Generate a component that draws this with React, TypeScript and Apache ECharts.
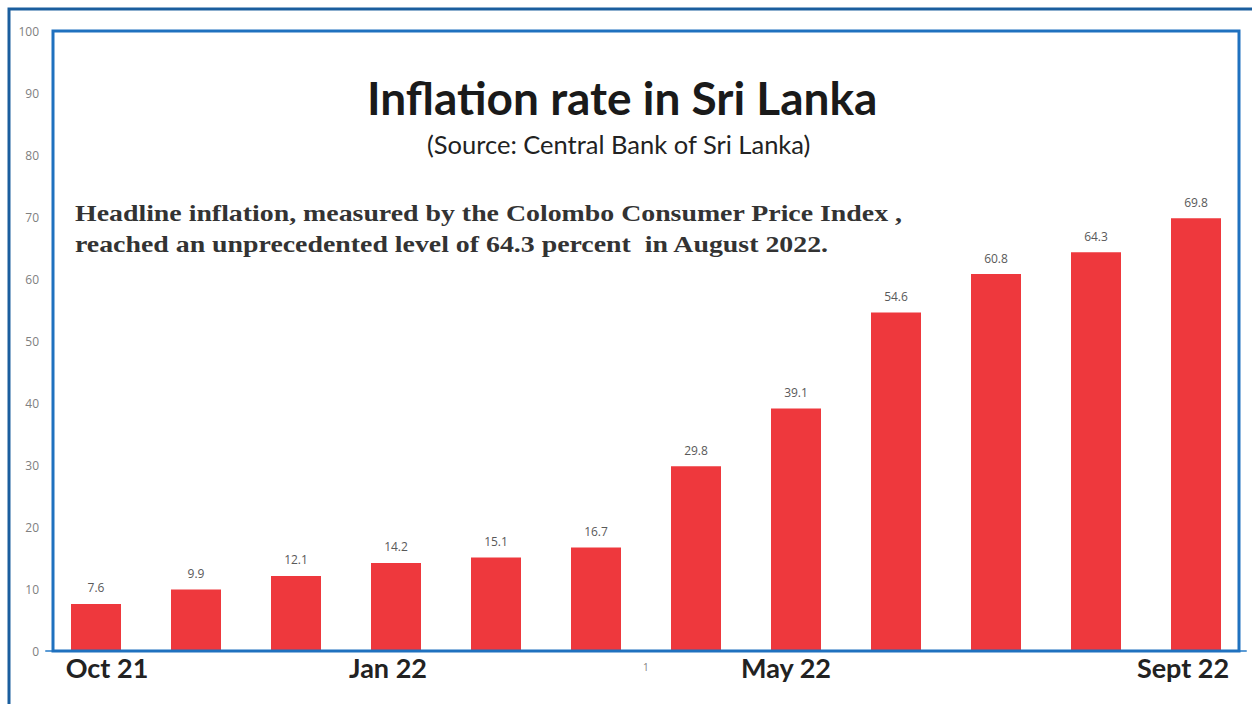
import React, { useEffect, useRef } from "react";
import * as echarts from "echarts";

const categories = ["Oct 21", "Nov 21", "Dec 21", "Jan 22", "Feb 22", "Mar 22", "Apr 22", "May 22", "Jun 22", "Jul 22", "Aug 22", "Sept 22"];
const values = [7.6, 9.9, 12.1, 14.2, 15.1, 16.7, 29.8, 39.1, 54.6, 60.8, 64.3, 69.8];
const shownLabels = ["Oct 21", "Jan 22", "May 22", "Sept 22"];
const labelStyleKey: Record<string, string> = { "Oct 21": "r", "Jan 22": "l1", "May 22": "l2", "Sept 22": "l3" };
const titleText = "Inflation rate in Sri Lanka";
const subtitleText = "(Source: Central Bank of Sri Lanka)";
const noteLine1 = "Headline inflation, measured by the Colombo Consumer Price Index ,";
const noteLine2 = "reached an unprecedented level of 64.3 percent  in August 2022.";

export default function App() {
  const ref = useRef<HTMLDivElement>(null);
  useEffect(() => {
    if (!ref.current) return;
    const chart = echarts.init(ref.current, null, { renderer: "svg" });
    const base = { fontFamily: "Lato", fontWeight: "bold", fontSize: 27, color: "#222222" };
    chart.setOption({
      animation: false,
      backgroundColor: "#ffffff",
      grid: { left: 46, right: 6, top: 31, bottom: 53, containLabel: false },
      xAxis: {
        type: "category",
        data: categories,
        axisLine: { show: true, lineStyle: { color: "#5b9bd5", width: 2 } },
        axisTick: { show: false },
        axisLabel: {
          interval: (i: number) => shownLabels.includes(categories[i]),
          formatter: (v: string) => `{${labelStyleKey[v] || "r"}|${v}}`,
          ...base,
          margin: 3,
          rich: {
            r: { ...base, padding: [0, 0, 0, 22] },
            l1: { ...base, padding: [0, 16, 0, 0] },
            l2: { ...base, padding: [0, 20, 0, 0] },
            l3: { ...base, padding: [0, 26, 0, 0] },
          },
        },
      },
      yAxis: {
        type: "value",
        min: 0,
        max: 100,
        interval: 10,
        axisLine: { show: false },
        axisTick: { show: false },
        splitLine: { show: false },
        axisLabel: { fontFamily: "Open Sans", fontSize: 12, color: "#808080", margin: 7 },
      },
      series: [
        {
          type: "bar",
          data: values,
          barWidth: "50%",
          itemStyle: { color: "#ee383d" },
          label: {
            show: true,
            position: "top",
            distance: 10,
            fontFamily: "Open Sans",
            fontSize: 12,
            color: "#595959",
          },
        },
      ],
      graphic: [
        {
          type: "rect",
          shape: { x: 9, y: 9, width: 1300, height: 800 },
          style: { fill: "none", stroke: "#1a5e9e", lineWidth: 3 },
          z: 10,
        },
        {
          type: "rect",
          shape: { x: 53, y: 31, width: 1186, height: 620 },
          style: { fill: "none", stroke: "#1f71bf", lineWidth: 3 },
          z: 10,
        },
        {
          type: "text",
          left: 367,
          top: 74,
          style: { text: titleText, fontFamily: "Lato", fontWeight: "bold", fontSize: 46, fill: "#1a1a1a" },
        },
        {
          type: "text",
          left: 427,
          top: 131,
          style: { text: subtitleText, fontFamily: "Lato", fontSize: 25.5, fill: "#222222" },
        },
        {
          type: "text",
          x: 75,
          y: 201,
          scaleX: 1.16,
          style: { text: noteLine1, fontFamily: "Liberation Serif", fontWeight: "bold", fontSize: 24, fill: "#333333", verticalAlign: "top" },
        },
        {
          type: "text",
          x: 75,
          y: 232,
          scaleX: 1.16,
          style: { text: noteLine2, fontFamily: "Liberation Serif", fontWeight: "bold", fontSize: 24, fill: "#333333", verticalAlign: "top" },
        },
        {
          type: "text",
          left: 643,
          top: 662,
          style: { text: "1", fontFamily: "Open Sans", fontSize: 10, fill: "#808080" },
        },
      ],
    });
    return () => chart.dispose();
  }, []);
  return <div ref={ref} style={{ position: "fixed", left: 0, top: 0, width: 1252, height: 704 }} />;
}
